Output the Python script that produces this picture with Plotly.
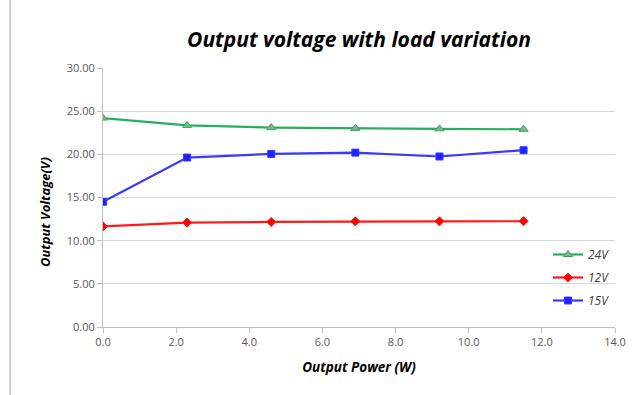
import plotly.graph_objects as go

power = [0.0, 2.3, 4.6, 6.9, 9.2, 11.5]
v24 = [24.2, 23.35, 23.1, 23.0, 22.95, 22.9]
v12 = [11.65, 12.1, 12.17, 12.23, 12.24, 12.25]
v15 = [14.5, 19.63, 20.05, 20.2, 19.75, 20.48]

series = [
    ("24V", v24, "#26b05e", "triangle-up", "#8fae8a", 8),
    ("12V", v12, "#ff1a1a", "diamond", "#ff0000", 7),
    ("15V", v15, "#3a3aff", "square", "#2020ff", 7),
]

fig = go.Figure()
for name, vals, col, sym, mcol, ms in series:
    fig.add_trace(go.Scatter(
        x=power, y=vals, name=name, mode="lines+markers", legendgroup=name,
        line=dict(color=col, width=2.2),
        marker=dict(symbol=sym, size=ms, color=mcol, line=dict(color=col, width=1)),
    ))

font_family = "Open Sans, Liberation Sans, sans-serif"
fig.update_layout(
    width=641, height=395,
    margin=dict(l=103, r=26, t=68, b=68),
    paper_bgcolor="white", plot_bgcolor="white",
    title=dict(text="<b><i>Output voltage with load variation</i></b>",
               xref="paper", x=0.5, xanchor="center", y=1 - 40 / 395, yanchor="middle",
               font=dict(family=font_family, size=21, color="black")),
    xaxis=dict(range=[0, 14], dtick=2, tickformat=".1f", showgrid=False,
               showline=True, linecolor="#bfbfbf", ticks="outside", tickcolor="#bfbfbf",
               ticklen=5, zeroline=False,
               tickfont=dict(family=font_family, size=11, color="#595959"),
               title=dict(text="<b><i>Output Power (W)</i></b>", standoff=14,
                          font=dict(family=font_family, size=13.5, color="black"))),
    yaxis=dict(range=[0, 30], dtick=5, tickformat=".2f", showgrid=True, gridcolor="#d9d9d9",
               showline=True, linecolor="#bfbfbf", ticks="outside", tickcolor="#bfbfbf",
               ticklen=5, zeroline=False,
               tickfont=dict(family=font_family, size=11, color="#595959")),
    legend=dict(x=(548 - 103) / 512, y=(327 - 240) / 259, xanchor="left", yanchor="top",
                bgcolor="rgba(0,0,0,0)", tracegroupgap=4, itemwidth=30,
                traceorder="grouped",
                font=dict(family=font_family, size=12, color="#404040", style="italic")),
    showlegend=True,
)
fig.add_annotation(text="<b><i>Output Voltage(V)</i></b>", textangle=-90,
                   xref="paper", yref="paper", x=(45 - 103) / 512, y=(327 - 212) / 259,
                   xanchor="center", yanchor="middle", showarrow=False,
                   font=dict(family=font_family, size=13, color="black"))
fig.add_shape(type="line", xref="paper", yref="paper",
              x0=(10 - 103) / 512, x1=(10 - 103) / 512, y0=-68 / 259, y1=(259 + 68) / 259,
              line=dict(color="#d0d0d0", width=2))
fig.write_html("out.html")
